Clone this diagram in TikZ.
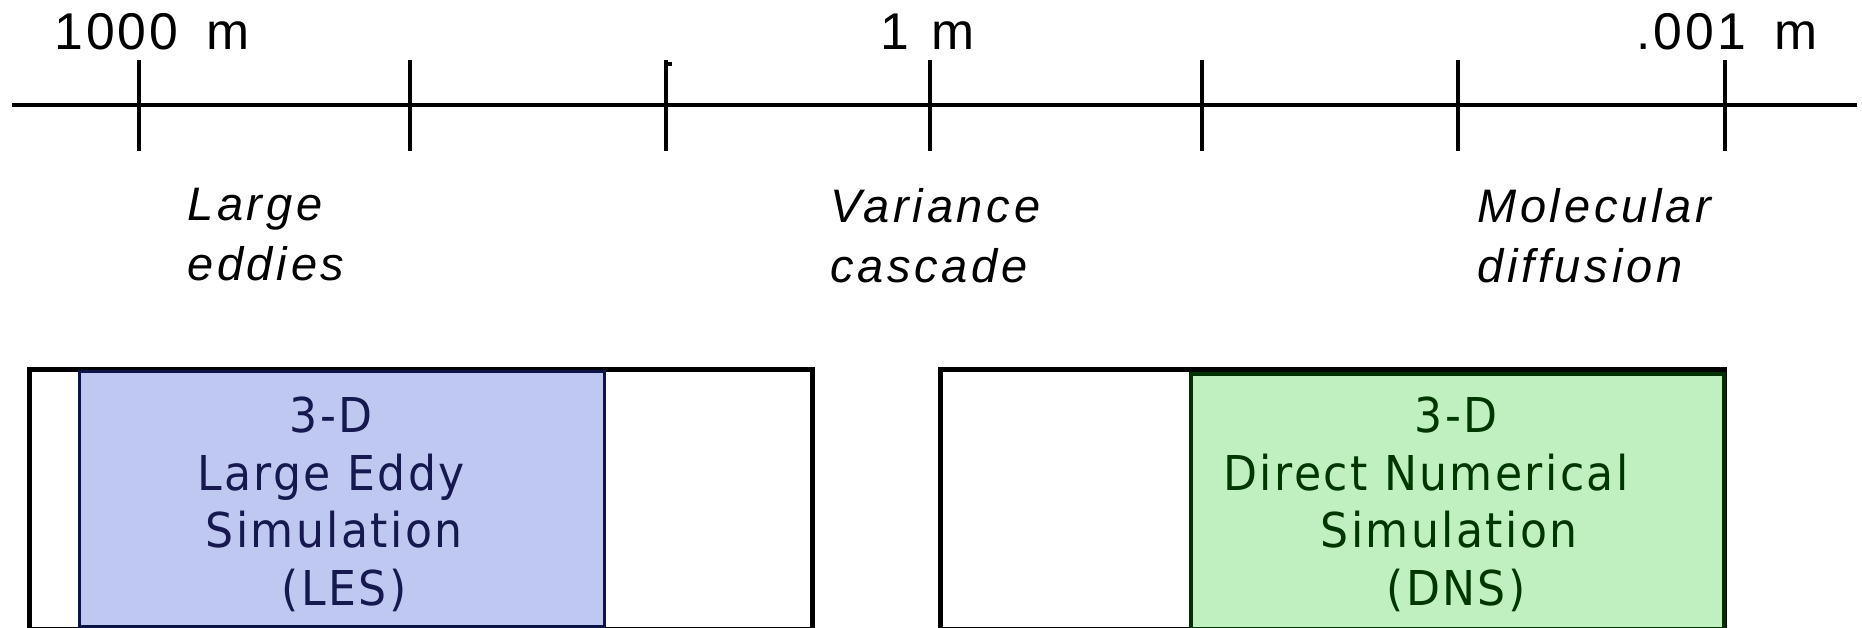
\documentclass[tikz,border=0pt]{standalone}
\usepackage{fontspec}
\setmainfont{Liberation Sans}
\newfontfamily\topfont{Liberation Sans}[LetterSpace=6]
\newfontfamily\labfont{Liberation Sans}[LetterSpace=8]
\newfontfamily\boxfont{DejaVu Sans}[FakeStretch=0.92,LetterSpace=5]
\definecolor{lesfill}{HTML}{BFC8F1}
\definecolor{lesdark}{HTML}{0B1449}
\definecolor{lestext}{HTML}{15194F}
\definecolor{dnsfill}{HTML}{C0F0C0}
\definecolor{dnsdark}{HTML}{003200}
\definecolor{dnstext}{HTML}{003600}
\tikzset{
  axisline/.style={line width=4pt, black},
  tickline/.style={line width=3.5pt, black},
  scalelabel/.style={font=\topfont\fontsize{51.7}{60}\selectfont, anchor=base west, inner sep=0pt},
  proclabel/.style={font=\labfont\itshape\fontsize{47}{60}\selectfont, align=left, anchor=north west, inner sep=0pt},
  simtext/.style={font=\boxfont\fontsize{48}{57.5}\selectfont, align=center, anchor=north, inner sep=0pt},
  outerbox/.style={fill=white, draw=black, line width=5pt},
}
\begin{document}
\begin{tikzpicture}[x=1pt,y=-1pt]
\useasboundingbox (0,0) rectangle (1862,628);
\fill[white] (0,0) rectangle (1862,628);
% axis
\coordinate (axL) at (12,105.5);
\coordinate (axR) at (1857,105.5);
\draw[axisline] (axL) -- (axR);
\foreach \i/\x in {1/139,2/410,3/666,4/930,5/1202,6/1458,7/1725} {
  \coordinate (tt\i) at (\x,60);
  \coordinate (tb\i) at (\x,151);
  \draw[tickline] (tt\i) -- (tb\i);
}
\fill[black] (667.5,62.5) rectangle (672,66.5);
% scale labels
\node[scalelabel] (s1000) at (54,50) {1000\hspace{28pt}m};
\node[scalelabel] (s1) at (880,50) {1\hspace{23pt}m};
\node[scalelabel] (s001) at (1636.3,50) {.001\hspace{28pt}m};
% process labels
\node[proclabel] (large) at (187,188.3) {Large\\eddies};
\node[proclabel] (variance) at (830,188.3) {Variance\\cascade};
\node[proclabel] (molecular) at (1477,188.3) {Molecular\\diffusion};
% LES box
\path[outerbox] (29.5,369.5) rectangle (812.5,629.5);
\filldraw[fill=lesfill, draw=lesdark, line width=3pt] (79.5,371) rectangle (604,626.5);
\node[simtext, text=lestext] (les) at (331,397) {3-D\\Large Eddy\\\mbox{\kern6pt Simulation}\\\mbox{\kern26pt(LES)}};
% DNS box
\path[outerbox] (940.5,369.5) rectangle (1724,629.5);
\filldraw[fill=dnsfill, draw=dnsdark, line width=4.5pt] (1191,374) rectangle (1724,629.5);
\node[simtext, text=dnstext] (dns) at (1456,397) {3-D\\\mbox{Direct Numerical\kern60pt}\\\mbox{Simulation\kern14pt}\\(DNS)};
\end{tikzpicture}
\end{document}
